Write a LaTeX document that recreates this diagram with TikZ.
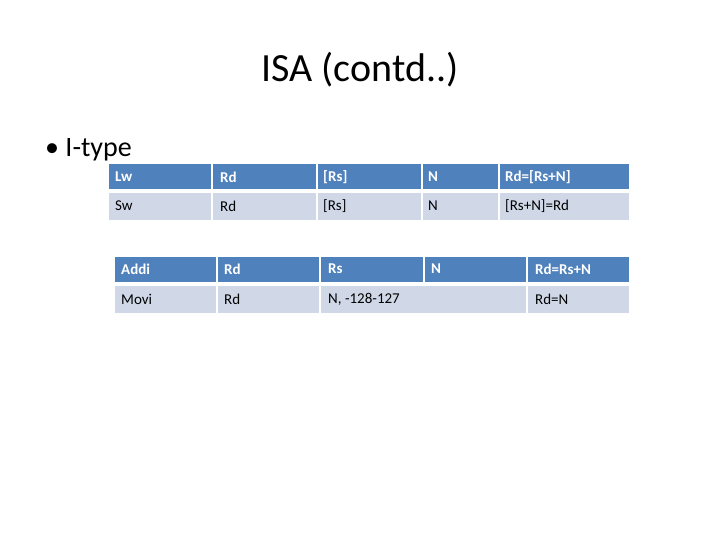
\documentclass[tikz,border=0pt]{standalone}
\usepackage{fontspec}
\setmainfont{Carlito}
\definecolor{hd}{HTML}{4F81BD}
\definecolor{lt}{HTML}{D0D8E8}
\begin{document}
\begin{tikzpicture}[x=1pt,y=-1pt,
 hcell/.style={fill=hd,draw=none},
 lcell/.style={fill=lt,draw=none},
 htxt/.style={anchor=west,text=white,font=\fontsize{15}{18}\selectfont\bfseries,inner sep=0pt},
 ltxt/.style={anchor=west,text=black,font=\fontsize{15}{18}\selectfont,inner sep=0pt}]
\useasboundingbox[fill=white] (0,0) rectangle (720,540);
\node (title) at (360,70) {\fontsize{40}{48}\selectfont ISA (contd..)};
\node[anchor=west,inner sep=0pt] (bullet) at (45,150) {\fontsize{28}{34}\selectfont • I-type};
% table 1
\foreach \a/\b [count=\i] in {109/211,213/316,318/421,423/498,500/629}{
 \fill[hcell] (\a,164) rectangle (\b,189);
 \fill[lcell] (\a,193) rectangle (\b,220);
}
\node[htxt] (a1) at (115,177) {Lw};
\node[htxt] (a2) at (220,177) {Rd};
\node[htxt] (a3) at (323,177) {[Rs]};
\node[htxt] (a4) at (428,177) {N};
\node[htxt] (a5) at (505,177) {Rd=[Rs+N]};
\node[ltxt] (b1) at (115,206) {Sw};
\node[ltxt] (b2) at (220,206) {Rd};
\node[ltxt] (b3) at (323,206) {[Rs]};
\node[ltxt] (b4) at (428,206) {N};
\node[ltxt] (b5) at (505,206) {[Rs+N]=Rd};
% table 2
\foreach \a/\b in {115/216,218/319,321/423,425/526,528/629}{
 \fill[hcell] (\a,257) rectangle (\b,282);
}
\foreach \a/\b in {115/216,218/319,321/526,528/629}{
 \fill[lcell] (\a,286) rectangle (\b,313);
}
\node[htxt] (c1) at (121,269) {Addi};
\node[htxt] (c2) at (224,269) {Rd};
\node[htxt] (c3) at (328,269) {Rs};
\node[htxt] (c4) at (431,269) {N};
\node[htxt] (c5) at (535,269) {Rd=Rs+N};
\node[ltxt] (d1) at (121,299) {Movi};
\node[ltxt] (d2) at (224,299) {Rd};
\node[ltxt] (d3) at (328,299) {N, -128-127};
\node[ltxt] (d5) at (535,299) {Rd=N};
\end{tikzpicture}
\end{document}
